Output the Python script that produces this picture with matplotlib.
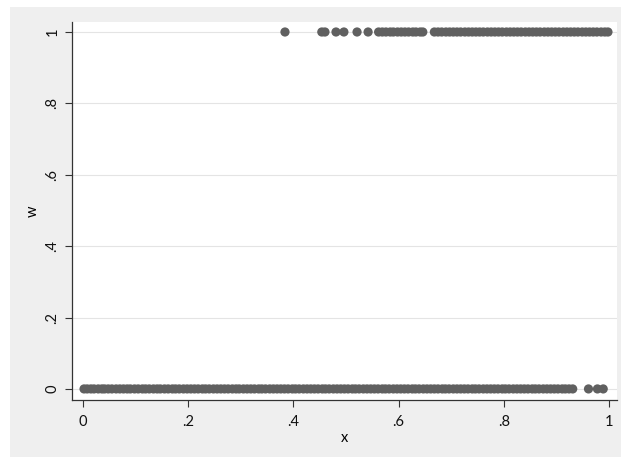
import matplotlib
matplotlib.use("Agg")
import matplotlib.pyplot as plt
from matplotlib.patches import Rectangle

# data: x values for observations with w = 0 and w = 1
x_w0 = [0.002, 0.008, 0.015, 0.021, 0.029, 0.036, 0.041, 0.048, 0.055, 0.063, 0.070, 0.077,
        0.084, 0.090, 0.098, 0.105, 0.113, 0.119, 0.126, 0.134, 0.141, 0.147, 0.155, 0.162,
        0.170, 0.176, 0.183, 0.191, 0.198, 0.205, 0.212, 0.219, 0.227, 0.233, 0.240, 0.248,
        0.255, 0.262, 0.269, 0.276, 0.284, 0.291, 0.297, 0.305, 0.312, 0.319, 0.326, 0.334,
        0.340, 0.347, 0.355, 0.362, 0.369, 0.376, 0.383, 0.390, 0.398, 0.404, 0.411, 0.419,
        0.426, 0.433, 0.440, 0.447, 0.455, 0.461, 0.468, 0.476, 0.483, 0.490, 0.497, 0.504,
        0.512, 0.518, 0.525, 0.533, 0.540, 0.547, 0.554, 0.561, 0.569, 0.575, 0.582, 0.590,
        0.597, 0.604, 0.611, 0.618, 0.626, 0.632, 0.639, 0.647, 0.654, 0.661, 0.668, 0.675,
        0.683, 0.689, 0.696, 0.704, 0.711, 0.718, 0.725, 0.732, 0.740, 0.746, 0.753, 0.761,
        0.768, 0.775, 0.782, 0.789, 0.797, 0.803, 0.810, 0.818, 0.825, 0.832, 0.839, 0.846,
        0.854, 0.860, 0.867, 0.875, 0.882, 0.889, 0.896, 0.903, 0.911, 0.917, 0.924, 0.931,
        0.961, 0.978, 0.989]
w0 = [0] * len(x_w0)

x_w1 = [0.384, 0.454, 0.460, 0.481, 0.496, 0.521, 0.542, 0.562, 0.569, 0.576, 0.584, 0.590,
        0.598, 0.605, 0.612, 0.619, 0.627, 0.633, 0.641, 0.646, 0.668, 0.675, 0.682, 0.690,
        0.697, 0.704, 0.711, 0.718, 0.726, 0.733, 0.740, 0.747, 0.754, 0.761, 0.769, 0.776,
        0.783, 0.790, 0.797, 0.805, 0.812, 0.819, 0.826, 0.833, 0.841, 0.848, 0.855, 0.862,
        0.869, 0.877, 0.884, 0.891, 0.898, 0.905, 0.913, 0.920, 0.927, 0.934, 0.941, 0.949,
        0.956, 0.963, 0.970, 0.977, 0.985, 0.992, 0.998]
w1 = [1] * len(x_w1)

ticks = [0, 0.2, 0.4, 0.6, 0.8, 1.0]
tick_labels = ["0", ".2", ".4", ".6", ".8", "1"]

plt.rcParams['font.family'] = ['Lato', 'DejaVu Sans']

W, H = 621, 457
fig = plt.figure(figsize=(W / 100, H / 100), dpi=100, facecolor="white")
bg = Rectangle((10 / W, 0), (W - 10) / W, (H - 7) / H,
               transform=fig.transFigure, facecolor="#EFEFEF",
               edgecolor="none", zorder=-10)
fig.add_artist(bg)

ax = fig.add_axes([72 / W, (H - 400) / H, (617 - 72) / W, (400 - 22) / H])
ax.set_zorder(1)
ax.set_facecolor("white")

pt_color = "#606060"
ax.scatter(x_w0, w0, s=44, color=pt_color, edgecolors="none", zorder=3, clip_on=False)
ax.scatter(x_w1, w1, s=44, color=pt_color, edgecolors="none", zorder=3, clip_on=False)

ax.set_xlim(-0.0209, 1.0152)
ax.set_ylim(-0.031, 1.028)

ax.set_xticks(ticks)
ax.set_xticklabels(tick_labels, fontsize=10.5)
ax.set_yticks(ticks)
ax.set_yticklabels(tick_labels, fontsize=10.5, rotation=90, va="center")

ax.grid(axis="y", color="#E4E4E4", linewidth=0.8, zorder=1)
ax.set_axisbelow(True)

for s in ["top", "right"]:
    ax.spines[s].set_visible(False)
for s in ["left", "bottom"]:
    ax.spines[s].set_color("#333333")
    ax.spines[s].set_linewidth(0.9)

ax.tick_params(axis="both", length=5, width=0.8, color="#333333", labelcolor="#111111")
ax.tick_params(axis="x", pad=6)
ax.tick_params(axis="y", pad=4)

ax.set_xlabel("x", fontsize=10.5, labelpad=1)
ax.set_ylabel("w", fontsize=10.5, labelpad=4)

fig.savefig("out.png", dpi=100, facecolor=fig.get_facecolor())
